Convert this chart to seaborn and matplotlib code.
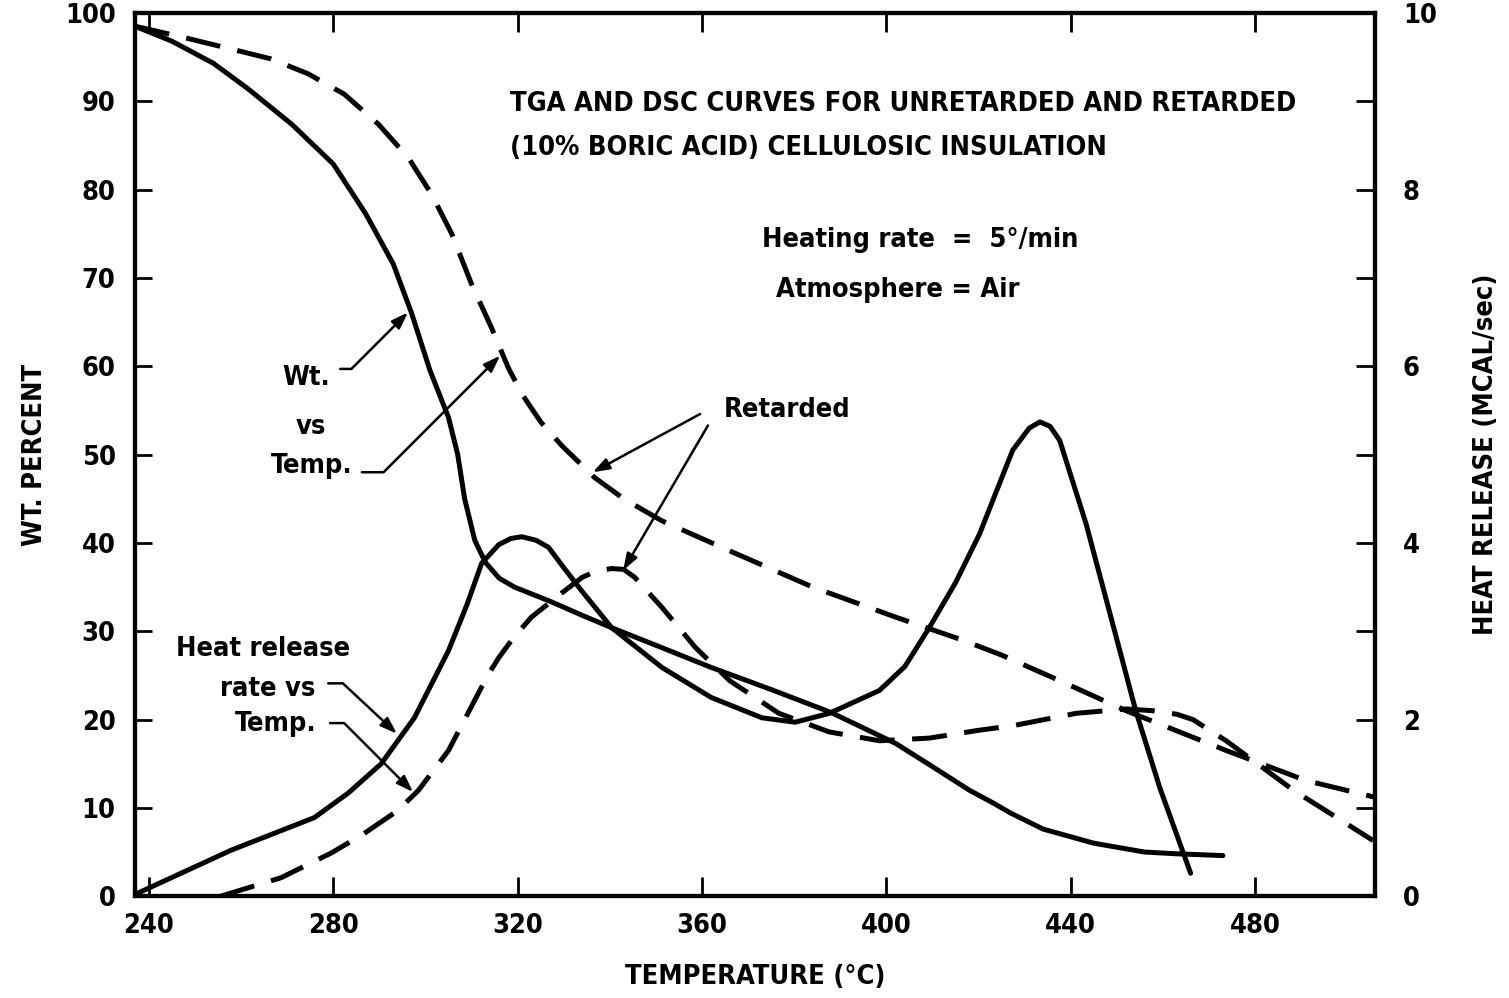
import matplotlib
matplotlib.use("Agg")
import matplotlib.pyplot as plt
import seaborn as sns
import pandas as pd

# ---- data ----
# weight percent vs temperature (left axis)
tga_unret_temp = [237, 245, 254, 261.3, 271, 280, 287, 293, 297, 301, 305, 307, 308.5, 310.7, 313, 316,
                  319.3, 327, 334, 340.4, 351, 362, 375, 388, 402, 409, 418, 423, 427, 434, 445, 456, 463, 473]
tga_unret_wt = [98.5, 96.8, 94.3, 91.5, 87.4, 82.9, 77.3, 71.6, 66.0, 59.5, 54.2, 50.0, 45.0, 40.3, 37.8, 36.0,
                35.0, 33.4, 31.8, 30.4, 28.2, 25.9, 23.4, 20.8, 17.3, 15.0, 12.0, 10.6, 9.4, 7.6, 6.0, 5.0, 4.8, 4.6]

tga_ret_temp = [237, 247, 258, 266.5, 274.6, 282.4, 289.8, 296.3, 301.3, 305.7, 310, 314.3, 318, 321,
                325, 329.6, 336.7, 343, 351.3, 366, 384, 402, 416.5, 425, 437.6, 452, 473.7, 491, 506]
tga_ret_wt = [98.5, 97.3, 95.9, 94.8, 93.1, 90.8, 87.4, 83.6, 79.5, 75.0, 69.3, 64.4, 59.8, 56.8,
              53.7, 51.0, 47.4, 45.0, 42.5, 39.1, 35.0, 31.6, 29.0, 27.3, 24.4, 21.0, 16.5, 13.1, 11.2]

# heat release rate vs temperature (right axis, mcal/sec)
dsc_unret_temp = [237.4, 257.8, 275.9, 283.3, 290.4, 297.6, 305, 309, 312.2, 315.9, 318.5, 320.9, 324,
                  326.7, 330, 334, 340.4, 351.3, 362, 373, 380.2, 387.6, 398.5, 404, 409.3, 415, 420.2,
                  427.4, 431, 433.3, 435.5, 437.6, 443.3, 448.5, 454.1, 459.3, 466]
dsc_unret_heat = [0.03, 0.52, 0.89, 1.17, 1.5, 2.02, 2.78, 3.3, 3.77, 3.98, 4.05, 4.07, 4.03,
                  3.95, 3.72, 3.45, 3.04, 2.59, 2.25, 2.02, 1.97, 2.07, 2.33, 2.6, 3.04, 3.55, 4.1,
                  5.05, 5.3, 5.37, 5.32, 5.16, 4.22, 3.2, 2.1, 1.23, 0.26]

dsc_ret_temp = [255.6, 268.7, 279.6, 286.7, 294, 298.5, 305, 310.7, 313.5, 315.9, 319, 323, 330, 334,
                337, 340.4, 343, 345.4, 351.3, 358.5, 366, 376.7, 387.6, 398.5, 409.3, 420.2, 427.4,
                441.1, 452, 457.8, 463, 466.5, 473.7, 488.3, 505.6]
dsc_ret_heat = [0.0, 0.21, 0.49, 0.71, 0.97, 1.2, 1.65, 2.22, 2.5, 2.7, 2.92, 3.16, 3.45, 3.61,
                3.68, 3.71, 3.7, 3.61, 3.27, 2.82, 2.44, 2.07, 1.86, 1.76, 1.79, 1.88, 1.93,
                2.07, 2.12, 2.1, 2.06, 2.0, 1.76, 1.2, 0.63]

x_ticks = [240, 280, 320, 360, 400, 440, 480]
wt_ticks = list(range(0, 101, 10))
heat_ticks = [0, 2, 4, 6, 8, 10]

# ---- style ----
sns.set_style("ticks")
plt.rcParams['font.family'] = ['DejaVu Sans']
plt.rcParams['font.weight'] = 'bold'
plt.rcParams['font.stretch'] = 'condensed'
for key in ("text.color", "axes.labelcolor", "xtick.color", "ytick.color", "axes.edgecolor"):
    plt.rcParams[key] = "black"
FS = 19.5
LW = 3.6
DASH = (7, 3.5)

fig = plt.figure(figsize=(15.09, 9.98), dpi=100)
ax = fig.add_axes([0.0895, 0.102, 0.8217, 0.885])
ax2 = ax.twinx()

df_tga_u = pd.DataFrame({"temp": tga_unret_temp, "val": tga_unret_wt})
df_tga_r = pd.DataFrame({"temp": tga_ret_temp, "val": tga_ret_wt})
df_dsc_u = pd.DataFrame({"temp": dsc_unret_temp, "val": dsc_unret_heat})
df_dsc_r = pd.DataFrame({"temp": dsc_ret_temp, "val": dsc_ret_heat})

sns.lineplot(data=df_tga_u, x="temp", y="val", ax=ax, color="black", lw=LW)
sns.lineplot(data=df_tga_r, x="temp", y="val", ax=ax, color="black", lw=LW)
ax.lines[-1].set_dashes(DASH)
sns.lineplot(data=df_dsc_u, x="temp", y="val", ax=ax2, color="black", lw=LW)
sns.lineplot(data=df_dsc_r, x="temp", y="val", ax=ax2, color="black", lw=LW)
ax2.lines[-1].set_dashes(DASH)

ax.set_xlim(237, 506)
ax.set_ylim(0, 100)
ax2.set_ylim(0, 10)

ax.set_xticks(x_ticks)
ax.set_yticks(wt_ticks)
ax2.set_yticks(heat_ticks)
ax2.set_yticks(range(0, 11), minor=True)

ax.tick_params(axis="x", direction="in", length=14, width=2, top=True, labelsize=FS, pad=12)
ax.tick_params(axis="y", direction="in", length=12, width=2, labelsize=FS, pad=14)
ax2.tick_params(axis="y", which="both", direction="in", length=14, width=2, labelsize=FS, pad=20)

for a in (ax, ax2):
    for s in a.spines.values():
        s.set_visible(True)
        s.set_linewidth(3)
        s.set_color("black")

ax.set_xlabel("TEMPERATURE (°C)", fontsize=FS, fontweight="bold", labelpad=18)
ax.set_ylabel("WT. PERCENT", fontsize=FS, fontweight="bold", labelpad=12)
ax2.set_ylabel("HEAT RELEASE (MCAL/sec)", fontsize=FS, fontweight="bold", labelpad=26, rotation=90)

# ---- annotations ----
def fx(px):
    return px / 1509

def fy(py):
    return 1 - py / 998

fig.text(fx(510), fy(104), "TGA AND DSC CURVES FOR UNRETARDED AND RETARDED", fontsize=FS,
         fontweight="bold", ha="left", va="center")
fig.text(fx(510), fy(148), "(10% BORIC ACID) CELLULOSIC INSULATION", fontsize=FS,
         fontweight="bold", ha="left", va="center")
fig.text(fx(920), fy(240), "Heating rate  =  5°/min", fontsize=FS, fontweight="bold", ha="center", va="center")
fig.text(fx(898), fy(290), "Atmosphere = Air", fontsize=FS, fontweight="bold", ha="center", va="center")

fig.text(fx(306), fy(378), "Wt.", fontsize=FS, fontweight="bold", ha="center", va="center")
fig.text(fx(311), fy(427), "vs", fontsize=FS, fontweight="bold", ha="center", va="center")
fig.text(fx(312), fy(466), "Temp.", fontsize=FS, fontweight="bold", ha="center", va="center")

fig.text(fx(263), fy(649), "Heat release", fontsize=FS, fontweight="bold", ha="center", va="center")
fig.text(fx(268), fy(689), "rate vs", fontsize=FS, fontweight="bold", ha="center", va="center")
fig.text(fx(276), fy(724), "Temp.", fontsize=FS, fontweight="bold", ha="center", va="center")

fig.text(fx(787), fy(410), "Retarded", fontsize=FS, fontweight="bold", ha="center", va="center")

arrow = dict(arrowstyle="-|>,head_length=1.0,head_width=0.35", color="black", lw=1.8,
             shrinkA=0, shrinkB=0)

# Wt. vs Temp. arrows (left axis data coords)
ax.annotate("", xy=(296.2, 66.1), xytext=(281.5, 59.7),
            arrowprops=dict(arrow, connectionstyle="angle,angleA=0,angleB=45,rad=0"))
ax.annotate("", xy=(316.2, 61.2), xytext=(286.2, 48.0),
            arrowprops=dict(arrow, connectionstyle="angle,angleA=0,angleB=45,rad=0"))
# Heat release arrows
ax.annotate("", xy=(293.8, 18.4), xytext=(278.9, 24.1),
            arrowprops=dict(arrow, connectionstyle="angle,angleA=0,angleB=-43,rad=0"))
ax.annotate("", xy=(297.3, 11.8), xytext=(279.3, 19.6),
            arrowprops=dict(arrow, connectionstyle="angle,angleA=0,angleB=-45,rad=0"))
# Retarded arrows
ax.annotate("", xy=(336.3, 48.0), xytext=(359.6, 54.6), arrowprops=arrow)
ax.annotate("", xy=(342.9, 36.9), xytext=(361.3, 53.3), arrowprops=arrow)

fig.savefig("out.png", dpi=100)
